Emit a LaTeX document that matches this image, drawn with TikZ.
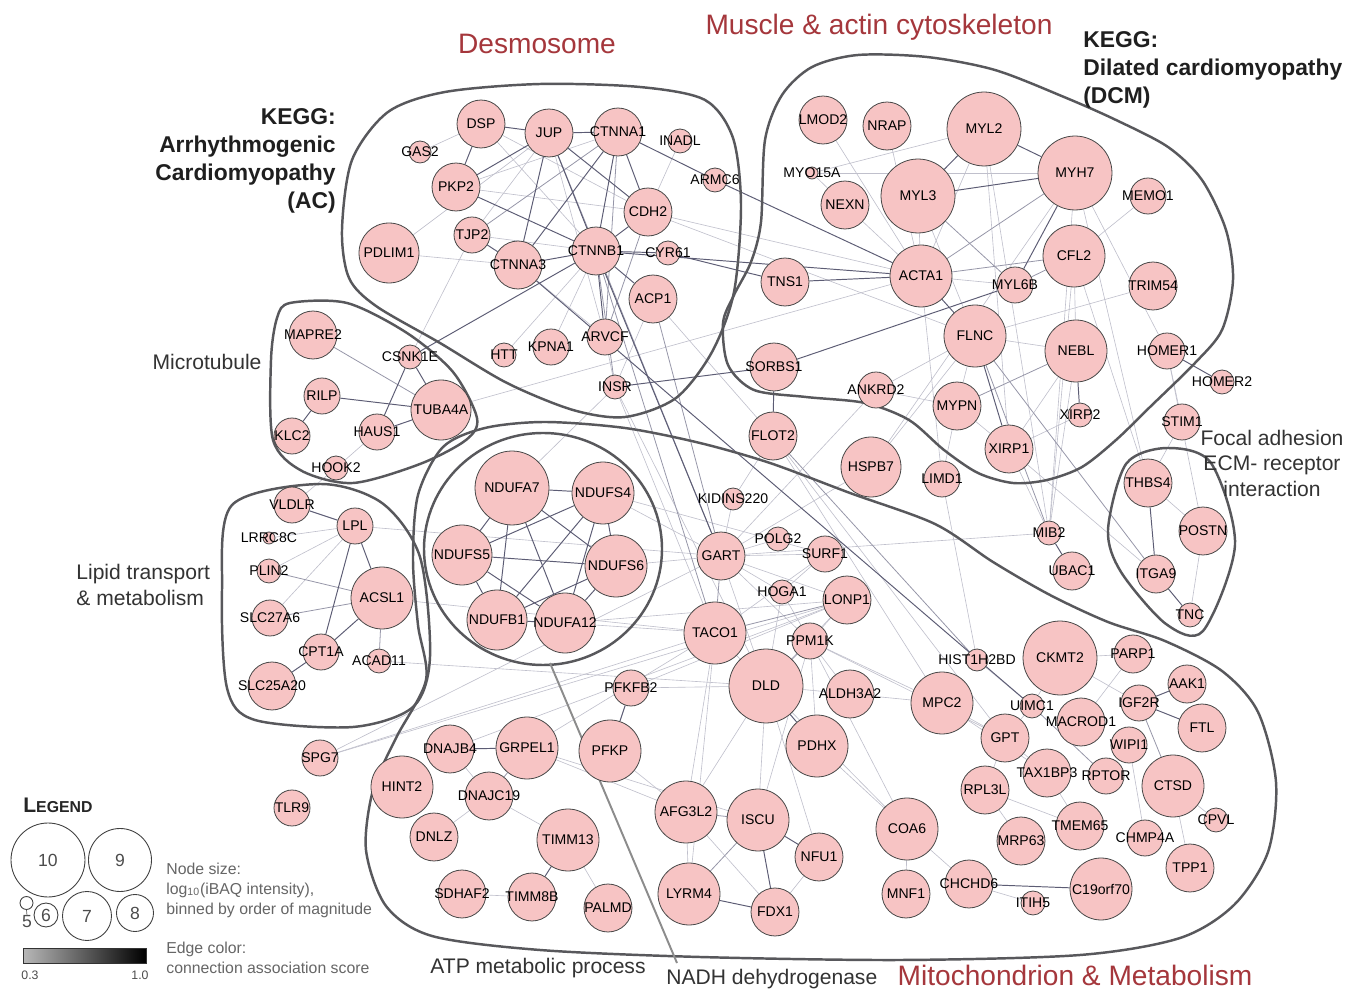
\documentclass[tikz,border=0pt]{standalone}
\usepackage{fontspec}
\setmainfont{Liberation Sans}
\usepackage{tikz}
\usepackage{xcolor}

\definecolor{protfill}{RGB}{247,196,196}
\definecolor{protline}{RGB}{70,70,70}
\definecolor{hullgray}{RGB}{88,88,92}
\definecolor{titlered}{RGB}{165,55,60}
\definecolor{elightc}{RGB}{192,192,204}
\definecolor{emidc}{RGB}{150,150,168}
\definecolor{edarkc}{RGB}{92,92,116}

\pgfdeclarelayer{edges}
\pgfsetlayers{edges,main}

\begin{document}
\begin{tikzpicture}[x=0.02cm, y=-0.02cm,
    prot/.style={circle, draw=protline, fill=protfill, line width=0.45pt, inner sep=0pt,
        label={[protlabel]center:#1}},
    protlabel/.style={font=\fontsize{8}{8}\selectfont, inner sep=0pt},
    hull/.style={draw=hullgray, line width=1.4pt},
    elight/.style={draw=elightc, line width=0.35pt},
    emid/.style={draw=emidc, line width=0.45pt},
    edark/.style={draw=edarkc, line width=0.55pt},
    grouptext/.style={font=\fontsize{12}{14.5}\selectfont, text=black!80, inner sep=0pt},
    keggtext/.style={font=\fontsize{13}{16}\selectfont\bfseries, text=black!88, inner sep=0pt},
    redtitle/.style={font=\fontsize{16}{16}\selectfont, text=titlered, inner sep=0pt},
    legcirc/.style={circle, draw=black!75, line width=0.5pt, fill=white, inner sep=0pt,
        font=\fontsize{10}{10}\selectfont, text=black!70},
    legtext/.style={font=\fontsize{9}{9}\selectfont, text=black!60, inner sep=0pt, anchor=base west}]

\useasboundingbox (0,0) rectangle (1350,989);

% Cluster outlines
\draw[hull] plot[smooth cycle] coordinates {(342,230) (352,160) (388,112) (445,92) (540,84)
    (640,87) (705,100) (733,138) (741,205) (734,292) (712,352) (676,398) (625,417) (573,410)
    (507,383) (440,343) (376,306) (349,278)};
\draw[hull] plot[smooth cycle] coordinates {(765,140) (782,95) (812,67) (858,55) (927,57)
    (995,70) (1064,97) (1116,120) (1168,147) (1202,180) (1226,230) (1233,280) (1222,330)
    (1195,363) (1150,407) (1116,440) (1082,467) (1047,480) (1013,483) (978,473) (944,450)
    (909,420) (865,403) (806,397) (754,390) (728,365) (723,323) (734,295) (751,262) (761,222)};
\draw[hull] plot[smooth cycle] coordinates {(290,303) (347,303) (407,333) (453,372) (477,418)
    (466,440) (420,464) (353,483) (302,471) (273,440) (271,360) (277,318)};
\draw[hull] plot[smooth cycle] coordinates {(232,505) (320,484) (382,503) (420,557) (430,657)
    (413,707) (353,727) (255,720) (227,688) (222,590)};
\draw[hull] plot[smooth cycle] coordinates {(1108,530) (1126,464) (1167,448) (1211,463)
    (1235,545) (1203,631) (1166,624) (1121,572)};
\draw[hull] (543,549) ellipse [x radius=119, y radius=116];
\draw[hull] plot[smooth cycle] coordinates {(443,447) (485,428) (545,422) (625,428) (700,443)
    (770,463) (850,493) (935,524) (993,562) (1050,595) (1108,622) (1165,641) (1222,671)
    (1258,712) (1276,782) (1268,852) (1234,905) (1180,938) (1080,955) (900,960) (700,957)
    (540,950) (432,936) (386,906) (366,850) (373,790) (396,738) (426,680) (418,625)
    (413,560) (418,495)};

% NADH pointer
\coordinate (nadhtip) at (677,963);
\draw[black!45, line width=1.1pt] (550,663) -- (nadhtip);

% Proteins
\foreach \n/\x/\y/\r [evaluate=\r as \d using \r*0.04] in {
    DSP/481/124/24, GAS2/420/152/11, JUP/549/133/24, CTNNA1/618/132/24, INADL/680/141/12,
    PKP2/456/187/24, ARMC6/715/180/12, CDH2/648/212/24, TJP2/472/235/18, PDLIM1/389/253/30,
    CTNNA3/518/265/24, CTNNB1/596/251/24, CYR61/668/253/12, ACP1/653/299/24, HTT/504/355/12,
    KPNA1/551/347/18, ARVCF/605/337/18, INSR/615/387/12,
    MAPRE2/313/335/24, CSNK1E/410/357/12, RILP/322/396/18, TUBA4A/441/410/30, KLC2/292/436/18,
    HAUS1/377/432/18, HOOK2/336/468/12,
    VLDLR/292/505/18, LPL/355/526/18, LRRC8C/269/538/6, PLIN2/269/571/12, ACSL1/382/598/31,
    SLC27A6/270/618/18, CPT1A/321/652/18, ACAD11/379/661/12, SLC25A20/272/686/24,
    SPG7/320/758/18, TLR9/292/808/18,
    NDUFA7/512/488/37, NDUFS4/603/493/31, NDUFS5/462/555/30, NDUFS6/616/566/31,
    NDUFB1/497/620/30, NDUFA12/565/623/30,
    LMOD2/823/120/24, NRAP/887/126/24, MYL2/984/129/37, MYO15A/812/173/6, NEXN/845/205/24,
    MYL3/918/196/37, MYH7/1075/173/37, MEMO1/1148/196/18, CFL2/1074/256/31, TRIM54/1153/286/24,
    TNS1/785/282/24, ACTA1/921/276/31, MYL6B/1015/285/18, FLNC/975/336/31, NEBL/1076/351/31,
    HOMER1/1167/351/18, HOMER2/1222/382/12, SORBS1/774/367/24, ANKRD2/876/390/18,
    MYPN/957/406/24, XIRP2/1080/415/12, XIRP1/1009/449/24, STIM1/1182/422/18,
    FLOT2/773/436/24, HSPB7/871/467/30, LIMD1/942/479/18,
    THBS4/1148/483/24, POSTN/1203/531/24, ITGA9/1156/574/19, TNC/1190/615/12,
    KIDINS220/733/499/11, GART/721/556/24, POLG2/778/539/12, SURF1/825/554/18,
    HOGA1/782/592/12, LONP1/847/600/24, TACO1/715/633/31, PPM1K/810/641/18, DLD/766/686/37,
    ALDH3A2/850/694/24, PDHX/817/746/31, MPC2/942/703/31, HIST1H2BD/977/660/11,
    CKMT2/1060/658/37, MIB2/1049/533/12, UBAC1/1072/571/19, UIMC1/1032/706/12,
    GPT/1005/738/24, MACROD1/1081/722/24, PARP1/1133/654/19, AAK1/1187/684/19,
    IGF2R/1139/703/18, FTL/1202/728/24, WIPI1/1129/745/18, CTSD/1173/786/31,
    RPTOR/1106/776/18, TAX1BP3/1047/773/24, RPL3L/985/790/24, TMEM65/1080/826/24,
    MRP63/1021/841/24, CHMP4A/1145/838/18, CPVL/1216/820/12, TPP1/1190/868/24,
    CHCHD6/969/884/24, ITIH5/1033/903/12, C19orf70/1101/889/31, COA6/907/829/31,
    MNF1/906/894/24, AFG3L2/686/812/31, ISCU/758/820/31, NFU1/819/857/24, LYRM4/689/894/31,
    FDX1/775/912/24, PFKFB2/631/688/18, DNAJB4/450/749/24, GRPEL1/527/748/31, PFKP/610/751/31,
    HINT2/402/787/31, DNAJC19/489/796/24, DNLZ/434/837/24, TIMM13/568/840/31,
    SDHAF2/462/894/24, TIMM8B/532/897/24, PALMD/608/908/24}
    \node[prot=\n, minimum size=\d cm] (\n) at (\x,\y) {};

% Associations
\begin{pgfonlayer}{edges}
\fill[white] (0,0) rectangle (1350,989);
\foreach \a/\b in {GAS2/DSP, DSP/CDH2, DSP/CTNNB1, PKP2/CTNNA1, PKP2/CDH2, PDLIM1/JUP,
    PDLIM1/CTNNA3, TJP2/CTNNB1, TJP2/JUP, TJP2/CSNK1E, CTNNA3/ARVCF, JUP/ARVCF, INADL/CDH2,
    CDH2/ACTA1, CDH2/FLNC, CTNNB1/HTT, CTNNB1/KPNA1, ACP1/FLOT2, ACP1/INSR, ARVCF/INSR,
    INSR/TACO1, INSR/DLD, INSR/NDUFA7, TUBA4A/ACTA1, HAUS1/HOOK2, HOOK2/VLDLR, LRRC8C/LPL,
    PLIN2/LPL, SLC27A6/LPL, LPL/GART, ACAD11/DLD, ACSL1/TACO1,
    LMOD2/ACTA1, NRAP/ACTA1, MYL2/ACTA1, MYL2/XIRP1, MYL2/MIB2, MYL2/MYO15A, MYO15A/MYH7,
    MYO15A/NEXN, MYL3/ACTA1, MYL3/FLNC, MYH7/HSPB7, MYH7/MIB2, MYH7/THBS4, MYH7/HOMER1,
    MEMO1/CFL2, CFL2/NEBL, CFL2/MIB2, CFL2/THBS4, TRIM54/FLNC, NEXN/ACTA1, ACTA1/MYL6B,
    ACTA1/LIMD1, FLNC/NEBL, FLNC/MYPN, FLNC/ANKRD2, FLNC/HSPB7, NEBL/XIRP1, NEBL/MIB2,
    MYPN/ANKRD2, MYPN/XIRP1, MYPN/LIMD1, XIRP2/XIRP1, XIRP1/MIB2, XIRP1/ITGA9, HOMER1/STIM1,
    HOMER1/POSTN, STIM1/THBS4, THBS4/POSTN, POSTN/TNC, LIMD1/HIST1H2BD, HSPB7/GART,
    KIDINS220/GART, KIDINS220/FLOT2, ANKRD2/GART, FLOT2/MPC2, FLOT2/GPT,
    GART/POLG2, GART/SURF1, GART/HOGA1, GART/LONP1, GART/DLD, GART/PPM1K, GART/MIB2,
    GART/NDUFS6, GART/NDUFS4, NDUFS4/SURF1, SURF1/TACO1, SURF1/HOGA1, HOGA1/PPM1K, HOGA1/DLD,
    LONP1/PPM1K, LONP1/NDUFA12, LONP1/DNAJB4, LONP1/SPG7, LONP1/PFKFB2, LONP1/DLD,
    NDUFA12/TACO1, TACO1/DLD, TACO1/SPG7,
    TACO1/GRPEL1, TACO1/LYRM4, TACO1/AFG3L2, PPM1K/ALDH3A2, PPM1K/MPC2, PPM1K/PDHX, PPM1K/COA6,
    PPM1K/GPT, PPM1K/ISCU, DLD/PFKFB2, DLD/ALDH3A2, DLD/AFG3L2, DLD/ISCU, DLD/NFU1, DLD/COA6,
    ALDH3A2/MPC2, PDHX/COA6, PFKP/AFG3L2, GRPEL1/AFG3L2, GRPEL1/ISCU, DNAJB4/DNAJC19,
    DNAJC19/DNLZ, DNAJC19/TIMM13, TIMM13/PALMD, TIMM8B/SDHAF2, AFG3L2/LYRM4, NFU1/FDX1,
    AFG3L2/FDX1, COA6/MNF1, COA6/CHCHD6, CHCHD6/ITIH5, MPC2/GPT, HIST1H2BD/UIMC1, CKMT2/UIMC1,
    CKMT2/PARP1, CKMT2/IGF2R, PARP1/MACROD1, WIPI1/CHMP4A, CTSD/CPVL, CTSD/TPP1, UIMC1/GPT,
    TAX1BP3/TMEM65, GPT/TAX1BP3, RPL3L/MRP63, RPL3L/GPT, SPG7/GART, MPC2/TAX1BP3, RPL3L/TMEM65}
    \draw[elight] (\a) -- (\b);
\foreach \a/\b in {CTNNA1/TJP2, CTNNA1/ARVCF, CDH2/ARVCF, CTNNB1/INSR, JUP/GART,
    MAPRE2/TUBA4A, MYL3/MYL6B, MYH7/ACTA1, CFL2/ACTA1, CFL2/MYL6B, NEBL/MYPN, FLNC/MIB2,
    FLNC/ITGA9, ACSL1/ACAD11, SLC27A6/ACSL1, PLIN2/ACSL1, UIMC1/RPTOR, DNAJC19/GRPEL1,
    AFG3L2/ISCU, PPM1K/DLD, FLOT2/HIST1H2BD, ISCU/LYRM4, IGF2R/CTSD, ACP1/GART, GART/TACO1,
    LONP1/TACO1, CTNNB1/TACO1}
    \draw[emid] (\a) -- (\b);
\foreach \a/\b in {DSP/JUP, DSP/PKP2, JUP/PKP2, JUP/CTNNA1, JUP/CTNNA3, JUP/CTNNB1, JUP/CDH2,
    CTNNA1/CTNNB1, CTNNA1/CTNNA3, CTNNA1/CDH2, CTNNA1/ARMC6, TJP2/CTNNA3, PKP2/CTNNB1,
    CTNNA3/CTNNB1, CTNNB1/CYR61, CTNNB1/CDH2, CTNNB1/ACP1, CTNNB1/ARVCF, CTNNB1/GART,
    CTNNB1/ACTA1, CYR61/TNS1, ARMC6/ACTA1, INSR/SORBS1, SORBS1/MYL6B, SORBS1/FLOT2,
    TNS1/ACTA1, MYL2/MYL3, MYL2/MYH7, MYL3/MYH7, MYH7/MYL6B, ACTA1/FLNC, FLNC/XIRP1,
    NEBL/XIRP2, HOMER1/HOMER2, CSNK1E/TUBA4A, CSNK1E/HAUS1, CSNK1E/CTNNB1, RILP/TUBA4A,
    RILP/KLC2, HAUS1/TUBA4A, VLDLR/LPL, LPL/ACSL1, LPL/CPT1A, CPT1A/ACSL1, CPT1A/SLC25A20,
    THBS4/ITGA9, ITGA9/TNC, IGF2R/AAK1, IGF2R/FTL, DLD/PDHX, PFKFB2/PFKP, GRPEL1/DNAJB4,
    TIMM13/TIMM8B, ISCU/FDX1, ISCU/NFU1, LYRM4/FDX1, CHCHD6/C19orf70, MIB2/UBAC1, CTNNA3/UIMC1,
    NDUFA7/NDUFS4, NDUFA7/NDUFS5, NDUFA7/NDUFS6, NDUFA7/NDUFB1, NDUFA7/NDUFA12,
    NDUFS4/NDUFS5, NDUFS4/NDUFS6, NDUFS4/NDUFB1, NDUFS4/NDUFA12, NDUFS5/NDUFS6,
    NDUFS5/NDUFB1, NDUFS5/NDUFA12, NDUFS6/NDUFB1, NDUFS6/NDUFA12, NDUFB1/NDUFA12}
    \draw[edark] (\a) -- (\b);
\end{pgfonlayer}

% Titles
\node[redtitle] (desmo) at (537,44) {Desmosome};
\node[redtitle] (muscle) at (879,27) {Muscle \& actin cytoskeleton};
\node[redtitle] (mito) at (1075,975) {Mitochondrion \& Metabolism};
\node[keggtext, align=right, anchor=east] (keggac) at (336,161) {KEGG:\\Arrhythmogenic\\Cardiomyopathy\\(AC)};
\node[keggtext, align=left, anchor=west] (keggdcm) at (1083,70) {KEGG:\\Dilated cardiomyopathy\\(DCM)};
\node[grouptext] (microt) at (207,362) {Microtubule};
\node[grouptext, align=left, anchor=west] (lipid) at (76,585) {Lipid transport\\\& metabolism};
\node[grouptext, align=center] (focal) at (1272,463) {Focal adhesion\\ECM- receptor\\interaction};
\node[grouptext] (atp) at (538,968) {ATP metabolic process};
\node[grouptext, anchor=west] (nadh) at (666,979) {NADH dehydrogenase};

% Legend
\node[font=\bfseries\fontsize{12}{12}\selectfont, text=black!85, anchor=base west, inner sep=0pt]
    (legtitle) at (23,813) {L{\fontsize{9}{9}\selectfont EGEND}};
\node[legcirc, minimum size=1.48cm] (leg10) at (48,860) {10};
\node[legcirc, minimum size=1.26cm] (leg9) at (120,860) {9};
\node[legcirc, minimum size=0.98cm] (leg7) at (87,916) {7};
\node[legcirc, minimum size=0.74cm] (leg8) at (135,913) {8};
\node[legcirc, minimum size=0.48cm] (leg6) at (46,915) {6};
\node[legcirc, minimum size=0.26cm] (leg5) at (26.5,903) {};
\node[font=\fontsize{10}{10}\selectfont, text=black!70, inner sep=0pt] (leg5t) at (27,922) {5};
\draw[black!60, line width=0.4pt] (leg5.south) -- (leg5t.north);
\shade[left color=black!28, right color=black, draw=black!80, line width=0.5pt]
    (23,948) rectangle (146,963);
\node[font=\fontsize{7}{7}\selectfont, text=black!70, inner sep=0pt] (barlo) at (30,975) {0.3};
\node[font=\fontsize{7}{7}\selectfont, text=black!70, inner sep=0pt] (barhi) at (140,975) {1.0};
\node[legtext] (nodesize) at (166,874) {Node size:};
\node[legtext] (nodelog) at (166,894) {log\textsubscript{10}(iBAQ intensity),};
\node[legtext] (nodebin) at (166,914) {binned by order of magnitude};
\node[legtext] (edgecol) at (166,953) {Edge color:};
\node[legtext] (edgescore) at (166,973) {connection association score};
\end{tikzpicture}
\end{document}
